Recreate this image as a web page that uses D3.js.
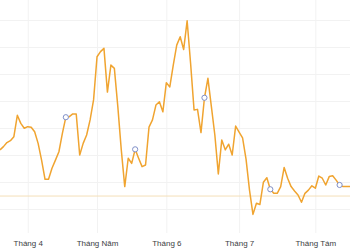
<!DOCTYPE html>
<html>
<head>
<meta charset="utf-8">
<script src="https://cdn.jsdelivr.net/npm/d3@7"></script>
<style>
  body { margin: 0; background: #fff; }
  svg { display: block; font-family: Roboto, Arial, sans-serif; }
</style>
</head>
<body>
<script>
// one value per trading session
const values = [
  121.9, 123.1, 124.6, 125.3, 126.8, 134.7, 131.7, 129.9, 130.5, 130.3,
  128.6, 124.3, 118.1, 111.0, 111.0, 115.1, 118.1, 121.2, 128.0, 134.0,
  134.2, 135.2, 135.2, 120.0, 124.3, 127.4, 133.0, 140.4, 156.4, 158.3,
  159.5, 143.3, 153.3, 152.1, 137.9, 121.9, 108.3, 118.8, 116.9, 122.1,
  118.8, 115.7, 116.3, 130.3, 133.0, 138.5, 139.7, 136.0, 146.8, 145.2,
  153.3, 160.7, 163.8, 159.1, 169.7, 154.0, 136.7, 136.9, 128.3, 141.2,
  148.4, 137.9, 127.4, 113.0, 125.6, 121.9, 124.0, 120.0, 130.7, 128.5,
  126.3, 118.5, 107.0, 98.0, 102.1, 101.7, 109.9, 111.6, 107.3, 105.8,
  105.8, 108.3, 115.4, 111.4, 108.3, 106.7, 105.2, 102.5, 105.8, 107.0,
  108.6, 107.7, 112.2, 111.4, 108.9, 112.0, 112.3, 110.7, 108.9, 108.3,
  108.3, 108.3
]
const markerIdx = [19, 39, 59, 78, 98]
const tickIdx = [8, 28, 48, 69, 91]
const tickLabels = ["Tháng 4", "Tháng Năm", "Tháng 6", "Tháng 7", "Tháng Tám"]
const gridValues = [100, 110, 120, 130, 140, 150, 160, 170]
const refValue = 104.8

const width = 350
const height = 250
const plotTop = 20
const plotBottom = 209
const axisY = 233

const svg = d3.select("body").append("svg")
  .attr("width", width)
  .attr("height", height)

const x = d3.scaleLinear()
  .domain([0, values.length - 1])
  .range([0, width])

const y = d3.scaleLinear()
  .domain([100, 170])
  .range([plotBottom, plotTop])

// horizontal grid
svg.append("g")
  .attr("class", "hgrid")
  .call(d3.axisLeft(y).tickValues(gridValues).tickSize(-width).tickFormat(""))
  .call(g => g.select(".domain").remove())
  .selectAll("line").attr("stroke", "#f2f2f2")

// vertical grid
svg.append("g")
  .attr("transform", "translate(0," + axisY + ")")
  .call(d3.axisTop(x).tickValues(tickIdx).tickSize(axisY).tickFormat(""))
  .call(g => g.select(".domain").remove())
  .selectAll("line").attr("stroke", "#f2f2f2")

// month labels
const xAxis = svg.append("g")
  .attr("transform", "translate(0," + axisY + ")")
  .call(d3.axisBottom(x).tickValues(tickIdx).tickSize(0).tickPadding(7)
    .tickFormat((d, i) => tickLabels[i]))
xAxis.select(".domain").remove()
xAxis.selectAll("text")
  .attr("fill", "#3c4043")
  .style("font-size", "8px")

// reference line
svg.append("line")
  .attr("x1", 0)
  .attr("x2", width)
  .attr("y1", y(refValue))
  .attr("y2", y(refValue))
  .attr("stroke", "#f4dfb8")
  .attr("stroke-width", 1)

const line = d3.line()
  .x((d, i) => x(i))
  .y(d => y(d))

svg.append("path")
  .datum(values)
  .attr("fill", "none")
  .attr("stroke", "#f0a430")
  .attr("stroke-width", 1.5)
  .attr("stroke-linejoin", "round")
  .attr("d", line)

svg.selectAll(".marker")
  .data(markerIdx)
  .enter()
  .append("circle")
  .attr("class", "marker")
  .attr("cx", d => x(d))
  .attr("cy", d => y(values[d]))
  .attr("r", 2.6)
  .attr("fill", "#fff")
  .attr("stroke", "#7f8fc8")
  .attr("stroke-width", 1)
</script>
</body>
</html>
